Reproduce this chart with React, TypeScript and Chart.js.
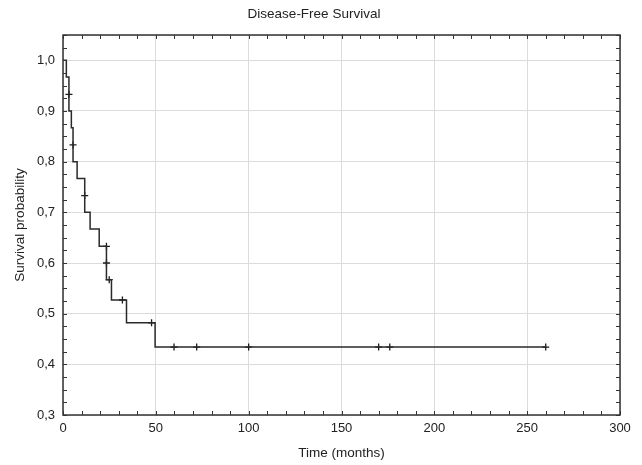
import React, { useEffect, useRef } from "react";
import { Chart, registerables } from "chart.js";

Chart.register(...registerables);

const titleText = "Disease-Free Survival";
const xTitle = "Time (months)";
const yTitle = "Survival probability";

// Kaplan-Meier step points: (time of change, new survival level)
const stepTimes = [0, 1.8, 3.2, 4.5, 5.4, 7.6, 11.7, 14.6, 19.5, 23.4, 26.1, 34.2, 49.6, 260];
const stepSurvival = [1.0, 0.967, 0.9, 0.867, 0.8, 0.767, 0.7, 0.667, 0.633, 0.567, 0.527, 0.482, 0.434, 0.434];

// observation markers (+)
const markTimes = [3.2, 5.4, 11.7, 23.4, 23.4, 24.9, 32, 47.7, 59.8, 72, 100, 170, 176, 260];
const markSurvival = [0.933, 0.833, 0.733, 0.633, 0.6, 0.567, 0.527, 0.482, 0.434, 0.434, 0.434, 0.434, 0.434, 0.434];

const xMin = 0;
const xMax = 300;
const xStep = 50;
const xMinorStep = 10;
const yMin = 0.3;
const yMax = 1.05;
const yStep = 0.1;
const yMinorStep = 0.025;

const frameColor = "#333333";

const framePlugin = {
  id: "frameTicks",
  afterDraw(chart: any) {
    const { ctx, chartArea, scales } = chart;
    const { left, right, top, bottom } = chartArea;
    ctx.save();
    ctx.strokeStyle = frameColor;
    ctx.lineWidth = 1;
    const len = 4;
    ctx.beginPath();
    for (let v = xMin; v <= xMax + 1e-9; v += xMinorStep) {
      const px = Math.round(scales.x.getPixelForValue(v)) + 0.5;
      ctx.moveTo(px, bottom);
      ctx.lineTo(px, bottom - len);
      ctx.moveTo(px, top);
      ctx.lineTo(px, top + len);
    }
    for (let v = yMin; v <= yMax + 1e-9; v += yMinorStep) {
      const py = Math.round(scales.y.getPixelForValue(v)) + 0.5;
      ctx.moveTo(left, py);
      ctx.lineTo(left + len, py);
      ctx.moveTo(right, py);
      ctx.lineTo(right - len, py);
    }
    ctx.stroke();
    ctx.lineWidth = 1.5;
    ctx.strokeRect(left, top, right - left, bottom - top);
    ctx.restore();
  },
};

export default function App() {
  const ref = useRef<HTMLCanvasElement | null>(null);
  useEffect(() => {
    if (!ref.current) return;
    const stepData = stepTimes.map((t, i) => ({ x: t, y: stepSurvival[i] }));
    const markData = markTimes.map((t, i) => ({ x: t, y: markSurvival[i] }));
    const family = "'Liberation Sans', Arial, sans-serif";
    const tickFont = { family, size: 13 };
    const titleFont = { family, size: 13.5 };
    const chart = new Chart(ref.current, {
      type: "scatter",
      data: {
        datasets: [
          {
            data: stepData,
            showLine: true,
            stepped: "before",
            borderColor: "#2a2a2a",
            borderWidth: 1.5,
            pointRadius: 0,
            fill: false,
          } as any,
          {
            data: markData,
            showLine: false,
            pointStyle: "cross",
            pointRadius: 3.5,
            borderColor: "#1a1a1a",
            borderWidth: 1.3,
            backgroundColor: "#1a1a1a",
          } as any,
        ],
      },
      options: {
        responsive: false,
        animation: false,
        layout: { padding: { top: 6, right: 22, left: 8, bottom: 0 } },
        plugins: {
          legend: { display: false },
          tooltip: { enabled: false },
          title: {
            display: true,
            text: titleText,
            color: "#222",
            font: { ...titleFont, weight: "normal" },
            padding: { top: 0, bottom: 12.8 },
          },
        },
        scales: {
          x: {
            type: "linear",
            min: xMin,
            max: xMax,
            ticks: { stepSize: xStep, color: "#222", font: tickFont, padding: 6 },
            grid: { color: "#dcdcdc", drawTicks: false },
            border: { display: false },
            title: { display: true, text: xTitle, color: "#222", font: titleFont },
            afterFit: (s: any) => {
              s.height = 50;
            },
          },
          y: {
            type: "linear",
            min: yMin,
            max: yMax,
            ticks: {
              stepSize: yStep,
              color: "#222",
              font: tickFont,
              padding: 8,
              callback: (v: any) => {
                const n = Number(v);
                if (Math.abs(n - yMax) < 1e-6) return "";
                return n.toFixed(1).replace(".", ",");
              },
            },
            grid: { color: "#dcdcdc", drawTicks: false },
            border: { display: false },
            title: { display: true, text: yTitle, color: "#222", font: titleFont },
            afterFit: (s: any) => {
              s.width = 55;
            },
          },
        },
      } as any,
      plugins: [framePlugin],
    });
    return () => chart.destroy();
  }, []);
  return (
    <div style={{ position: "fixed", left: 0, top: 0, width: 642, height: 465, background: "#fff" }}>
      <canvas ref={ref} width={642} height={465} />
    </div>
  );
}
